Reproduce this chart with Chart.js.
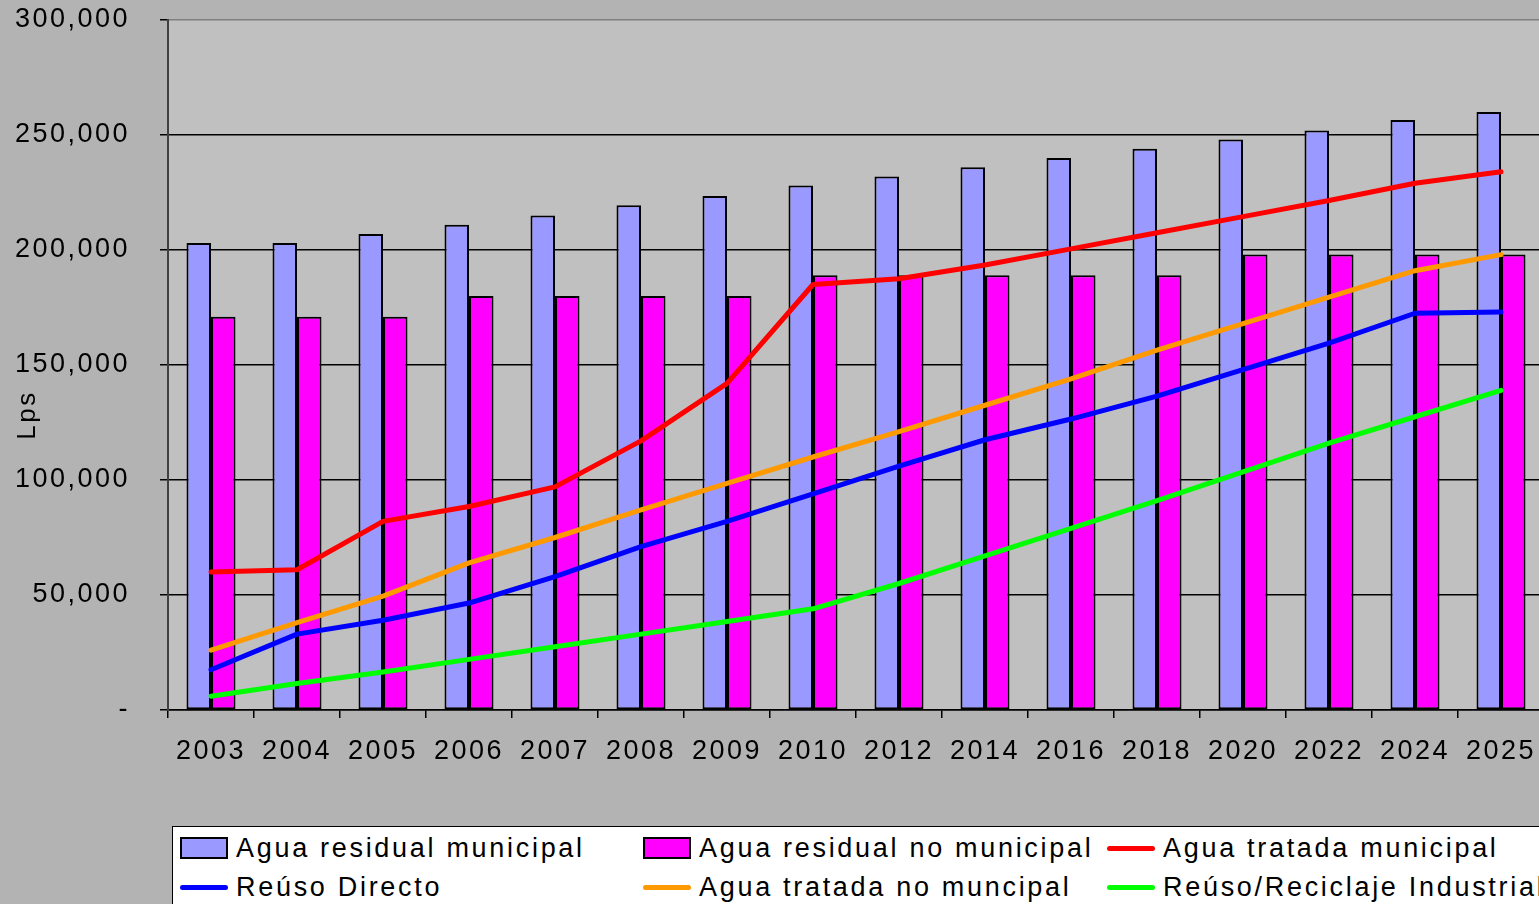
<!DOCTYPE html>
<html>
<head>
<meta charset="utf-8">
<script src="https://cdn.jsdelivr.net/npm/chart.js@4.4.1/dist/chart.umd.min.js"></script>
<style>
html, body { margin: 0; padding: 0; background: #b3b3b3; overflow: hidden; }
#wrap { position: relative; width: 1539px; height: 904px; overflow: hidden; }
#myChart { position: absolute; left: 0; top: 0; }
#legend {
    position: absolute; left: 172px; top: 826px; width: 1400px; height: 120px;
    background: #fff; border: 1.5px solid #000;
    font-family: "Liberation Sans", Arial, sans-serif; font-size: 27px; letter-spacing: 2.7px; color: #000;
}
.item { position: absolute; height: 30px; display: flex; align-items: center; white-space: nowrap; }
.box { width: 44px; height: 18px; border: 2px solid #000; margin-right: 8px; }
.ln { width: 48px; height: 5px; border-radius: 3px; margin-right: 8px; }
</style>
</head>
<body>
<div id="wrap">
    <canvas id="myChart" width="1560" height="904"></canvas>
    <div id="legend"></div>
</div>
<script>
var years = ['2003', '2004', '2005', '2006', '2007', '2008', '2009', '2010',
             '2012', '2014', '2016', '2018', '2020', '2022', '2024', '2025'];

var residualMunicipal   = [203000, 203000, 207000, 211000, 215000, 219500, 223500, 228000,
                           232000, 236000, 240000, 244000, 248000, 252000, 256500, 260000];
var residualNoMunicipal = [171000, 171000, 171000, 180000, 180000, 180000, 180000, 189000,
                           189000, 189000, 189000, 189000, 198000, 198000, 198000, 198000];
var tratadaMunicipal    = [60000, 61000, 82000, 88500, 97000, 117000, 142000, 185000,
                           187500, 193500, 200500, 207500, 214500, 221500, 229000, 234000];
var reusoDirecto        = [17500, 33000, 39000, 46500, 58000, 71000, 82000, 94000,
                           106000, 117500, 126500, 136500, 148000, 159500, 172500, 173000];
var tratadaNoMunicipal  = [26000, 38000, 49500, 64000, 75000, 87000, 98500, 110000,
                           121000, 132500, 144000, 156500, 168000, 179500, 191000, 198000];
var reusoIndustrial     = [6000, 11500, 16500, 22000, 27500, 33000, 38500, 44000,
                           55000, 67000, 79000, 91000, 103500, 116000, 127500, 139000];

var FONT = '"Liberation Sans", Arial, sans-serif';

function bar(label, data, color) {
    return { type: 'bar', label: label, data: data, backgroundColor: color,
             borderColor: '#000', borderWidth: 2, borderSkipped: false, order: 2 };
}
function line(label, data, color) {
    return { type: 'line', label: label, data: data, borderColor: color, backgroundColor: color,
             borderWidth: 5, pointRadius: 0, tension: 0, fill: false,
             borderJoinStyle: 'round', borderCapStyle: 'round', order: 1 };
}

// letter spacing like the original
var spacing = {
    id: 'spacing',
    beforeUpdate: function(chart) { chart.ctx.letterSpacing = '2.5px'; },
    beforeDraw: function(chart) { chart.ctx.letterSpacing = '2.5px'; }
};

var plotBg = {
    id: 'plotBg',
    beforeDraw: function(chart) {
        var ctx = chart.ctx, a = chart.chartArea;
        ctx.save();
        ctx.fillStyle = '#c0c0c0';
        ctx.fillRect(a.left, a.top, a.right - a.left, a.bottom - a.top);
        ctx.restore();
    },
    afterDraw: function(chart) {
        var ctx = chart.ctx;
        ctx.save();
        ctx.translate(28, 415);
        ctx.rotate(-Math.PI / 2);
        ctx.font = '26px ' + FONT;
        ctx.fillStyle = '#000';
        ctx.textAlign = 'center';
        ctx.textBaseline = 'middle';
        ctx.fillText('Lps', 0, 0);
        ctx.restore();
    }
};

var ctx = document.getElementById('myChart').getContext('2d');
var myChart = new Chart(ctx, {
    data: {
        labels: years,
        datasets: [
            bar('Agua residual municipal', residualMunicipal, '#9999ff'),
            bar('Agua residual no municipal', residualNoMunicipal, '#ff00ff'),
            line('Agua tratada municipal', tratadaMunicipal, '#ff0000'),
            line('Reúso Directo', reusoDirecto, '#0000ff'),
            line('Agua tratada no muncipal', tratadaNoMunicipal, '#ff9900'),
            line('Reúso/Reciclaje Industrial', reusoIndustrial, '#00ff00')
        ]
    },
    options: {
        responsive: false,
        animation: false,
        layout: { padding: { top: 20, right: 16, left: 0, bottom: 0 } },
        datasets: { bar: { categoryPercentage: 0.57, barPercentage: 1.0 } },
        plugins: { legend: { display: false }, tooltip: { enabled: false } },
        scales: {
            x: {
                offset: true,
                grid: { offset: true, drawOnChartArea: false, drawTicks: true, tickLength: 8,
                        tickColor: '#000', lineWidth: 1.5 },
                border: { color: '#000', width: 1.5 },
                ticks: { color: '#000', font: { family: FONT, size: 27 }, padding: 17,
                         maxRotation: 0, autoSkip: false },
                afterFit: function(scale) {
                    scale.height = 194;
                    scale.paddingLeft = 0; scale.paddingRight = 0;
                }
            },
            y: {
                min: 0, max: 300000,
                ticks: {
                    stepSize: 50000, color: '#000', font: { family: FONT, size: 27 }, padding: 30,
                    callback: function(v) { return v === 0 ? '-' : v.toLocaleString('en-US'); }
                },
                grid: {
                    color: function(c) { return c.tick && c.tick.value === 300000 ? '#808080' : '#000'; },
                    lineWidth: 1.5, tickLength: 8, tickColor: '#000'
                },
                border: { color: '#404040', width: 2 },
                afterFit: function(scale) {
                    scale.width = 168;
                    scale.paddingTop = 0; scale.paddingBottom = 0;
                }
            }
        }
    },
    plugins: [spacing, plotBg]
});

// legend in three columns, like the original
var legend = document.getElementById('legend');
var colX = [7, 470, 934];
var rowY = [6, 45];
myChart.data.datasets.forEach(function(ds, i) {
    var item = document.createElement('div');
    item.className = 'item';
    item.style.left = colX[i % 3] + 'px';
    item.style.top = rowY[Math.floor(i / 3)] + 'px';
    var sw = document.createElement('span');
    if (ds.type === 'bar') {
        sw.className = 'box';
        sw.style.background = ds.backgroundColor;
    } else {
        sw.className = 'ln';
        sw.style.background = ds.borderColor;
    }
    item.appendChild(sw);
    item.appendChild(document.createTextNode(ds.label));
    legend.appendChild(item);
});
</script>
</body>
</html>
